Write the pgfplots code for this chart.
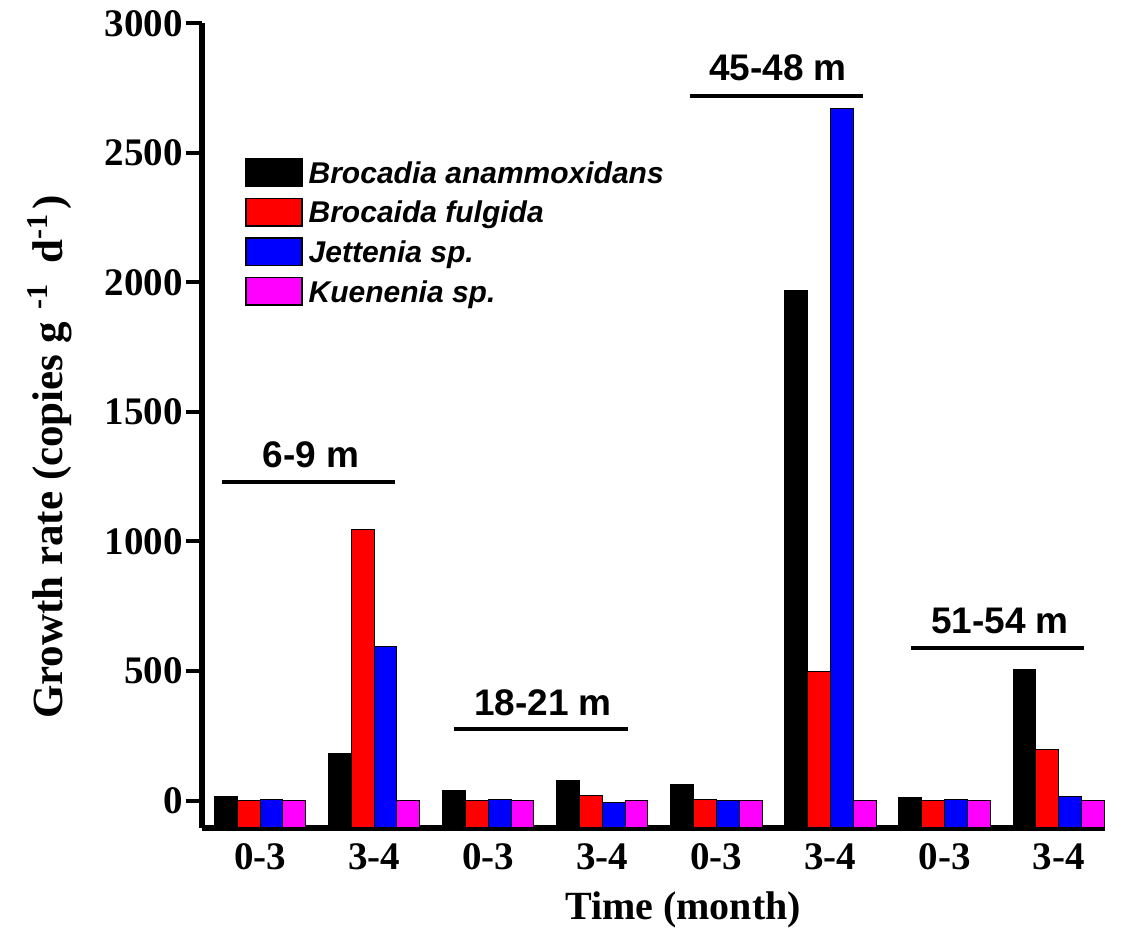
\documentclass[border=0pt]{standalone}
\usepackage{fontspec}
\setmainfont{Liberation Serif}
\setsansfont{Liberation Sans}
\usepackage{pgfplots}
\pgfplotsset{compat=1.18}
\definecolor{mag}{RGB}{255,0,255}
\definecolor{bred}{RGB}{255,0,0}
\definecolor{bblue}{RGB}{0,0,255}
\begin{document}
\begin{tikzpicture}
\path[use as bounding box] (-100.85pt,-51pt) rectangle (461.65pt,414pt);
\begin{axis}[
  at={(0,0)}, anchor=south west,
  scale only axis, width=451.65pt, height=402.35pt,
  xmin=-0.511, xmax=7.406, ymin=0, ymax=3106,
  y filter/.expression={y+106},
  axis lines=left,
  axis line style={line width=3pt, -},
  x axis line style={-}, y axis line style={-},
  xtick={0,...,7},
  xticklabels={0-3,3-4,0-3,3-4,0-3,3-4,0-3,3-4},
  ytick={106,606,1106,1606,2106,2606,3106},
  yticklabels={0,500,1000,1500,2000,2500,3000},
  tick align=outside,
  ytick pos=left,
  major tick length=8pt,
  xtick style={draw=none},
  ytick style={line width=2pt, black},
  tick label style={font=\bfseries\fontsize{19.5}{22}\selectfont, black},
  yticklabel style={inner sep=0pt, xshift=-1.35pt},
  xticklabel style={inner sep=0pt, anchor=base, yshift=-13pt},
  xlabel={Time (month)},
  ylabel={Growth rate (copies g\hspace{0.3em}\textsuperscript{-1}\hspace{0.2em} d\textsuperscript{-1}\hspace{0.1em})},
  xlabel style={font=\bfseries\fontsize{20}{22}\selectfont, at={(axis description cs:0.533,-0.1143)}, anchor=base, inner sep=0pt},
  ylabel style={font=\bfseries\fontsize{21.5}{24}\selectfont, at={(axis description cs:-0.1536,0.461)}, anchor=base, inner sep=0pt},
  mybar/.style={ybar, bar width=0.2, draw=black, line width=0.5pt,
    legend image code/.code={\draw[##1, line width=0.8pt] (0pt,-6.9pt) rectangle (28pt,6.9pt);}},
  legend style={at={(axis description cs:0.048,0.8326)}, anchor=north west,
    draw=none, fill=none, inner sep=0pt, outer sep=0pt,
    font=\sffamily\bfseries\itshape\fontsize{15}{17}\selectfont,
    row sep=5.2pt, column sep=3pt,
    nodes={inner sep=0pt, text height=10.74pt, text depth=0pt}},
  legend cell align=left,
]
\addplot[mybar, fill=black, bar shift=-0.3] coordinates {(0,15) (1,183) (2,38) (3,76) (4,60) (5,1969) (6,12) (7,506)};
\addplot[mybar, fill=bred, bar shift=-0.1] coordinates {(0,0) (1,1048) (2,0) (3,21) (4,5) (5,499) (6,0) (7,198)};
\addplot[mybar, fill=bblue, bar shift=0.1] coordinates {(0,5) (1,594) (2,5) (3,-6) (4,0) (5,2673) (6,5) (7,17)};
\addplot[mybar, fill=mag, bar shift=0.3] coordinates {(0,0) (1,2) (2,0) (3,0) (4,0) (5,0) (6,0) (7,0)};
\legend{Brocadia anammoxidans, Brocaida fulgida, Jettenia sp., Kuenenia sp.}
\draw[line width=2pt] (axis cs:-0.333,1337) -- (axis cs:1.183,1337);
\draw[line width=2pt] (axis cs:1.700,382) -- (axis cs:3.225,382);
\draw[line width=2pt] (axis cs:3.769,2826.5) -- (axis cs:5.285,2826.5);
\draw[line width=2pt] (axis cs:5.706,694.7) -- (axis cs:7.222,694.7);
\begin{scope}[every node/.style={anchor=base, inner sep=0pt, font=\sffamily\bfseries\fontsize{18.5}{20}\selectfont}]
\node at (axis cs:0.447,1389.5) {6-9 m};
\node at (axis cs:2.480,436) {18-21 m};
\node at (axis cs:4.54,2884.5) {45-48 m};
\node at (axis cs:6.486,752.6) {51-54 m};
\end{scope}
\end{axis}
\end{tikzpicture}
\end{document}
